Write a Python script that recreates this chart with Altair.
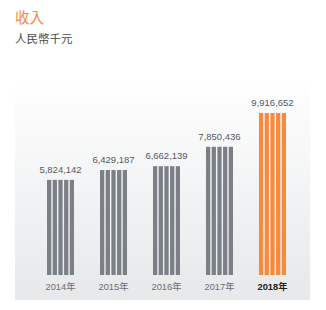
import altair as alt
import pandas as pd

years = ["2014年", "2015年", "2016年", "2017年", "2018年"]
values = [5824142, 6429187, 6662139, 7850436, 9916652]
highlight = [False, False, False, False, True]
stripes = [0, 1, 2, 3, 4]

rows = []
for y, v, h in zip(years, values, highlight):
    for s in stripes:
        rows.append({"year": y, "value": v, "hl": "y" if h else "n", "stripe": s})
df = pd.DataFrame(rows)
lab = pd.DataFrame({"year": years, "value": values,
                    "hl": ["y" if h else "n" for h in highlight]})

FONT = "Liberation Sans, Noto Sans CJK TC"

xscale = alt.Scale(domain=years, range=[47, 286], paddingInner=0.49, paddingOuter=0)
yscale = alt.Scale(domain=[0, max(values)], range=[275, 113], nice=False, zero=True)

bg = alt.Chart(alt.Data(values=[{}])).mark_rect(
    color=alt.LinearGradient(
        gradient="linear", x1=0, x2=0, y1=0, y2=1,
        stops=[alt.GradientStop(color="#ffffff", offset=0),
               alt.GradientStop(color="#e6e8ea", offset=1)])
).encode(x=alt.value(15), x2=alt.value(310), y=alt.value(77), y2=alt.value(300))

bars = alt.Chart(df).mark_bar().encode(
    x=alt.X("year:N", scale=xscale, axis=None),
    xOffset=alt.XOffset("stripe:N", scale=alt.Scale(paddingInner=0.25, paddingOuter=0)),
    y=alt.Y("value:Q", scale=yscale, axis=None),
    y2=alt.datum(0),
    color=alt.Color("hl:N", scale=alt.Scale(domain=["n", "y"], range=["#7b8086", "#f68b3e"]),
                    legend=None),
)

vals = alt.Chart(lab).mark_text(fontSize=9.5, font=FONT, color="#55595d",
                                baseline="alphabetic", dy=-7).encode(
    x=alt.X("year:N", scale=xscale, axis=None),
    y=alt.Y("value:Q", scale=yscale, axis=None),
    text=alt.Text("value:Q", format=","),
)

yl_norm = alt.Chart(lab).transform_filter("datum.hl == 'n'").mark_text(
    fontSize=9.3, font=FONT, color="#6b6f73", baseline="middle").encode(
    x=alt.X("year:N", scale=xscale, axis=None),
    y=alt.value(287),
    text="year:N",
)
yl_hl = alt.Chart(lab).transform_filter("datum.hl == 'y'").mark_text(
    fontSize=9.3, font=FONT, color="#222222", fontWeight="bold", baseline="middle").encode(
    x=alt.X("year:N", scale=xscale, axis=None),
    y=alt.value(287),
    text="year:N",
)

title = alt.Chart(alt.Data(values=[{"t": "收入"}])).mark_text(
    fontSize=14.5, font="Noto Sans CJK TC", color="#f4893c", align="left",
    baseline="middle").encode(x=alt.value(15), y=alt.value(19), text="t:N")
subtitle = alt.Chart(alt.Data(values=[{"t": "人民幣千元"}])).mark_text(
    fontSize=11.5, font="Noto Sans CJK TC", color="#4a4a4a", align="left",
    baseline="middle").encode(x=alt.value(15), y=alt.value(40), text="t:N")

chart = alt.layer(bg, bars, vals, yl_norm, yl_hl, title, subtitle).properties(
    width=326, height=310,
    autosize=alt.AutoSizeParams(type="none"),
    padding=0,
    background="white",
).configure_view(strokeWidth=0)

chart.save("out.html", embed_options={"renderer": "svg", "actions": False})
